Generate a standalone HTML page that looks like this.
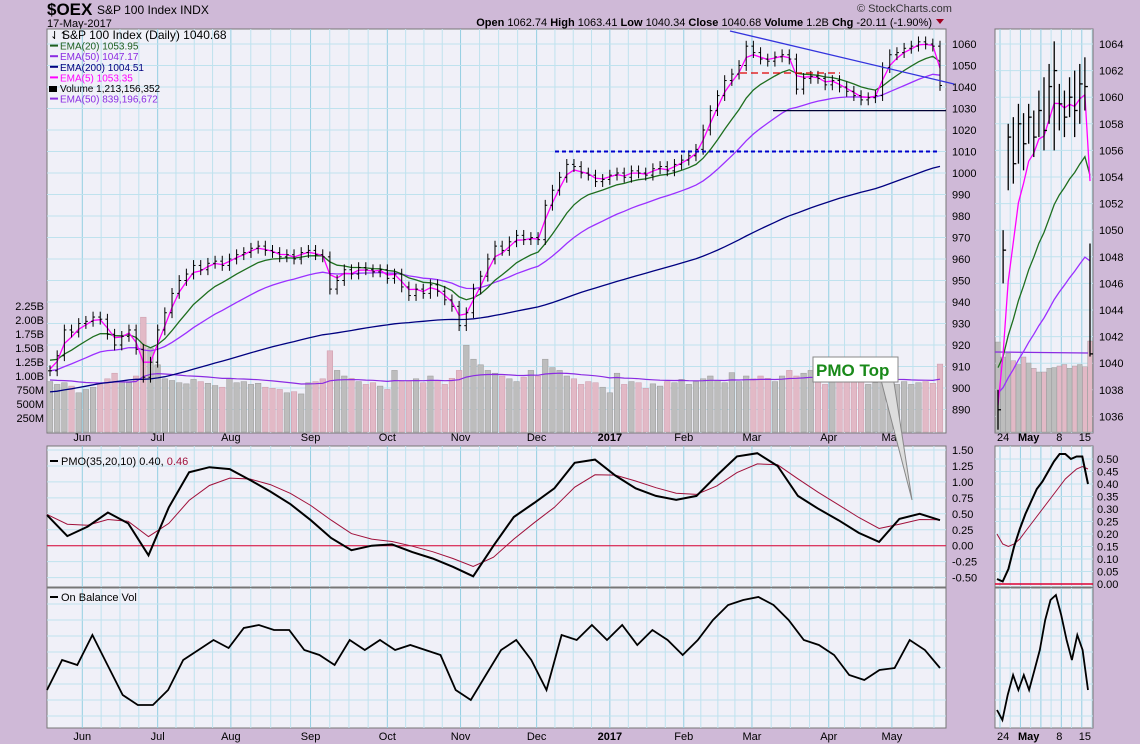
<!DOCTYPE html>
<html><head><meta charset="utf-8"><style>
body{margin:0;background:#cfb9d7;}
svg{display:block;font-family:"Liberation Sans",sans-serif;}
</style></head><body>
<svg id="c" width="1140" height="744" xmlns="http://www.w3.org/2000/svg">
<rect x="0" y="0" width="1140" height="744" fill="#cfb9d7"/>
<text x="47" y="15" font-size="17" font-weight="bold" font-family="Liberation Sans">$OEX</text>
<text x="97" y="14" font-size="12">S&amp;P 100 Index  INDX</text>
<text x="47" y="27" font-size="11">17-May-2017</text>
<text x="857" y="12" font-size="11" fill="#333">© StockCharts.com</text>
<text x="932" y="26" font-size="11" text-anchor="end"><tspan font-weight="bold">Open</tspan> 1062.74 <tspan font-weight="bold">High</tspan> 1063.41 <tspan font-weight="bold">Low</tspan> 1040.34 <tspan font-weight="bold">Close</tspan> 1040.68 <tspan font-weight="bold">Volume</tspan> 1.2B <tspan font-weight="bold">Chg</tspan> -20.11 (-1.90%)</text>
<polygon points="936,19 944,19 940,24" fill="#a00020"/>
<g id="g"></g>
</svg>
<script>
// ---------- data ----------
const closes=[908,915,927,926,930,931,933,932,925,920,
924,927,918,905,912,927,935,944,950,953,
957,955,958,959,957,960,962,963,965,966,
964,963,961,962,960,963,964,962,961,946,
950,955,953,956,955,954,955,951,953,947,
943,946,944,948,945,941,938,929,935,946,
952,960,966,964,968,971,969,970,969,985,
992,998,1004,1003,1000,999,996,997,999,1000,
998,1001,1000,999,1002,1003,1001,1004,1006,1008,
1011,1020,1029,1036,1043,1046,1050,1059,1056,1053,
1052,1054,1055,1053,1039,1044,1045,1044,1041,1043,
1040,1038,1036,1034,1035,1036,1049,1055,1056,1058,
1059,1061,1060,1059,1040.7];
const volumes=[900,850,880,820,700,760,800,850,950,1050,
900,880,1000,2050,1500,1200,950,920,880,860,
940,900,870,830,800,950,880,900,850,870,
800,780,760,700,720,680,880,900,950,1450,
1100,1000,960,900,850,880,820,760,1100,900,
900,950,880,1000,920,850,960,1100,1550,1300,
1200,1100,1050,1000,950,900,980,1100,1000,1300,
1150,1100,1000,950,850,900,880,800,700,1050,
850,900,880,780,860,820,900,880,940,850,
900,950,1000,920,880,1060,900,1000,950,1000,
960,900,1000,1100,1000,1050,1100,900,850,950,
1000,1050,900,950,850,880,1000,900,850,900,
850,880,900,870,1213];
const pmo=[.48,.15,.3,.52,.35,-.15,.6,1.15,1.23,1.2,1.03,.85,.65,.4,.12,-.07,0,.02,-.1,-.2,-.33,-.48,0,.45,.67,.9,1.3,1.35,1.1,.9,.78,.72,.78,1.1,1.4,1.45,1.25,.78,.58,.4,.2,.06,.42,.5,.40];
const obv=[3,6,5.5,8.5,5.5,2.5,1.5,1.5,3,6,7,8,7.2,9.2,9.5,9,9,7,6.5,5.5,8,7,8,7,7.5,7,6.5,3,2,4.5,7,8,6,3,8.5,8,9.5,8,9.5,7.5,9,8,6.5,8,10,11.5,12,12.3,11.5,10,8,7.5,6.5,4.5,4,5,5.2,8,7,5.2];
const priceTicks=[890,900,910,920,930,940,950,960,970,980,990,1000,1010,1020,1030,1040,1050,1060];
const volTicks=["250M","500M","750M","1.00B","1.25B","1.50B","1.75B","2.00B","2.25B"];
const pmoTicks=[-0.5,-0.25,0,0.25,0.5,0.75,1,1.25,1.5];
const months=["Jun","Jul","Aug","Sep","Oct","Nov","Dec","2017","Feb","Mar","Apr","May"];
const monthIdx=[4.5,15,25.2,36.3,47,57.2,67.8,78,88.3,97.8,108.5,117.3];
// side panel data
const sCloses=[1036.5,1048.5,1057,1055,1058,1056.5,1058.5,1057,1059,1057.5,1060.8,1062,1059.5,1058.5,1060,1059,1061,1060.8,1040.7];
const sHighs=[1038,1050,1058,1058.5,1059.5,1058.8,1059.5,1059,1060.5,1061.5,1062.5,1064.2,1061,1060.5,1061.5,1062,1062.5,1063,1049];
const sLows=[1035,1046,1053,1053.5,1055,1054.5,1056.5,1055.5,1057,1056,1058,1056,1057.5,1057,1058.5,1057,1058,1059,1040.5];
const sVolumes=[1200,1000,1050,950,900,1000,920,850,800,800,850,860,880,900,850,880,900,870,1213];
const sPmo=[0.02,0.01,0.06,0.15,0.22,0.28,0.33,0.38,0.41,0.45,0.49,0.52,0.52,0.50,0.51,0.51,0.40];
const sSignal=[0.20,0.16,0.15,0.16,0.18,0.21,0.24,0.27,0.30,0.33,0.36,0.39,0.42,0.44,0.46,0.47,0.46];
const sObv=[1,0,2.5,4.5,3,4.5,3,5,7,10,12,12.5,10.5,8,6,8.5,7,3];
const sTicks=[1036,1038,1040,1042,1044,1046,1048,1050,1052,1054,1056,1058,1060,1062,1064];
const sPmoTicks=[0,0.05,0.1,0.15,0.2,0.25,0.3,0.35,0.4,0.45,0.5];
const sDates=["24","May","8","15"];
const sDateIdx=[1,6,12,17];

// ---------- helpers ----------
const NS="http://www.w3.org/2000/svg";
const G=document.getElementById('g');
function el(t,a,p){const e=document.createElementNS(NS,t);for(const k in a)e.setAttribute(k,a[k]);(p||G).appendChild(e);return e;}
const L=47,R=946,SL=995,SR=1093;
const MT=29,MB=433,PT=446,PB=587,OT=588,OB=728;
const xi=i=>50+i*(890/(closes.length-1));
const yP=p=>44+(1060-p)*2.15;
const yV=v=>432-v*0.056;
const yPmo=v=>545.7-v*63.8;
const yObv=v=>720-v*10;
const sx=i=>998+i*(92/(sCloses.length-1));
const sy=p=>44+(1064-p)*13.3;
const syPmo=v=>584-v*250;
function ema(arr,a,seed){let e=seed;return arr.map(v=>(e=e+a*(v-e)));}
function pathOf(xs,ys){return xs.map((x,i)=>(i?'L':'M')+x.toFixed(1)+','+ys[i].toFixed(1)).join('');}

// panels
function panel(x,y,w,h,name){const r=el('rect',{x:x,y:y,width:w,height:h,fill:'#f0f0f8',stroke:'#777','stroke-width':1});}
panel(L,MT,R-L,MB-MT,'price-panel');panel(L,PT,R-L,PB-PT,'pmo-panel');panel(L,OT,R-L,OB-OT,'obv-panel');
panel(SL,MT,SR-SL,MB-MT,'side-price-panel');panel(SL,PT,SR-SL,PB-PT,'side-pmo-panel');panel(SL,OT,SR-SL,OB-OT,'side-obv-panel');

// vertical grid main
for(let m=0;m<monthIdx.length;m++){
  const x=xi(monthIdx[m]);
  const nx=m<monthIdx.length-1?xi(monthIdx[m+1]):R+30;
  for(let k=1;k<4;k++){const mx=x+(nx-x)*k/4;if(mx<R){[[MT,MB],[PT,PB],[OT,OB]].forEach(s=>el('line',{x1:mx,x2:mx,y1:s[0],y2:s[1],stroke:'#bfe2ee','stroke-width':1}));}}
  [[MT,MB],[PT,PB],[OT,OB]].forEach(s=>el('line',{x1:x,x2:x,y1:s[0],y2:s[1],stroke:'#94cfe2','stroke-width':1}));
  const t=el('text',{x:x,y:441,'font-size':11,'text-anchor':'middle','font-weight':months[m]==='2017'?'bold':'normal'});t.textContent=months[m];
  
  const t2=el('text',{x:x,y:740,'font-size':11,'text-anchor':'middle','font-weight':months[m]==='2017'?'bold':'normal'});t2.textContent=months[m];
  
}
// side vertical grid
for(let i=0;i<sCloses.length;i+=2){const x=sx(i)+2;[[MT,MB],[PT,PB],[OT,OB]].forEach(s=>el('line',{x1:x,x2:x,y1:s[0],y2:s[1],stroke:i%4==0?'#94cfe2':'#bfe2ee','stroke-width':1}));}
sDates.forEach((d,k)=>{[441,740].forEach(yy=>{const t=el('text',{x:sx(sDateIdx[k]),y:yy,'font-size':11,'text-anchor':'middle','font-weight':d==='May'?'bold':'normal'});t.textContent=d;
});});

// horizontal grid & ticks
priceTicks.forEach(p=>{const y=yP(p);el('line',{x1:L,x2:R,y1:y,y2:y,stroke:'#bfe2ee'});
 const t=el('text',{x:952,y:y+4,'font-size':11});t.textContent=p;});
volTicks.forEach((s,k)=>{const y=yV(250*(k+1));const t=el('text',{x:44,y:y+4,'font-size':11,'text-anchor':'end'});t.textContent=s;
 });
pmoTicks.forEach(v=>{const y=yPmo(v);el('line',{x1:L,x2:R,y1:y,y2:y,stroke:'#bfe2ee'});
 const t=el('text',{x:952,y:y+4,'font-size':11});t.textContent=v.toFixed(2);});
for(let y=OT+16;y<OB;y+=16){el('line',{x1:L,x2:R,y1:y,y2:y,stroke:'#bfe2ee'});el('line',{x1:SL,x2:SR,y1:y,y2:y,stroke:'#bfe2ee'});}
sTicks.forEach(p=>{const y=sy(p);el('line',{x1:SL,x2:SR,y1:y,y2:y,stroke:'#bfe2ee'});
 if(p%2==0&&p>=1036){const t=el('text',{x:1099,y:y+4,'font-size':11});t.textContent=p;}});
sPmoTicks.forEach(v=>{const y=syPmo(v);el('line',{x1:SL,x2:SR,y1:y,y2:y,stroke:'#bfe2ee'});
 const t=el('text',{x:1097,y:y+4,'font-size':11});t.textContent=v.toFixed(2);});

// volume bars
const bw=5.6;
volumes.forEach((v,i)=>{const up=i==0||closes[i]>=closes[i-1];const y=yV(v);
 const r=el('rect',{x:xi(i)-bw/2,y:y,width:bw,height:432-y,fill:up?'#bdbdbd':'#e2b9c6',stroke:up?'#999':'#cc99aa','stroke-width':0.5});
 });
const vEma=ema(volumes,0.077,930);
const vl=el('path',{d:pathOf(closes.map((c,i)=>xi(i)),vEma.map(yV)),fill:'none',stroke:'#8a2be2','stroke-width':1.2});

sVolumes.forEach((v,i)=>{const up=i==0||sCloses[i]>=sCloses[i-1];const y=432-v*0.075;
 const r=el('rect',{x:sx(i)-2.4,y:y,width:4.8,height:432-y,fill:up?'#bdbdbd':'#e2b9c6',stroke:'#999','stroke-width':0.4});
 });
const svl=el('line',{x1:SL,x2:1088,y1:352,y2:353,stroke:'#8a2be2','stroke-width':1.2});


// EMAs main
const xs=closes.map((c,i)=>xi(i));
[[ema(closes,0.0198,898),'#000080','ema200'],[ema(closes,0.077,908),'#9b30ff','ema50'],[ema(closes,0.18,914),'#1e6e1e','ema20'],[ema(closes,0.57,910),'#ff00ff','ema5']].forEach(s=>{
 const p=el('path',{d:pathOf(xs,s[0].map(yP)),fill:'none',stroke:s[1],'stroke-width':1.3});});
// price bars
closes.forEach((c,i)=>{const o=i?closes[i-1]:c;const hi=Math.max(o,c)+2.5,lo=Math.min(o,c)-2.5;const x=xi(i);
 const g=el('g',{stroke:'#000','stroke-width':1});
 el('line',{x1:x,x2:x,y1:yP(hi),y2:yP(lo)},g);el('line',{x1:x-2,x2:x,y1:yP(o),y2:yP(o)},g);el('line',{x1:x,x2:x+2,y1:yP(c),y2:yP(c)},g);});

// annotations
el('line',{x1:555,x2:940,y1:yP(1010),y2:yP(1010),stroke:'#0000cc','stroke-width':2,'stroke-dasharray':'4,3'});
el('line',{x1:740,x2:840,y1:yP(1046.5),y2:yP(1046.5),stroke:'#e00000','stroke-width':1.3,'stroke-dasharray':'7,4'});
el('line',{x1:773,x2:946,y1:yP(1029),y2:yP(1029),stroke:'#000033','stroke-width':1.3});
el('line',{x1:730,x2:954,y1:31,y2:84,stroke:'#3333dd','stroke-width':1.3});
el('polygon',{points:'880,376 893,376 912,500',fill:'#dddddd',stroke:'#888','stroke-width':1});
el('rect',{x:813,y:357,width:85,height:25,fill:'#fff',stroke:'#888'});
const ct=el('text',{x:816,y:376,'font-size':17,'font-weight':'bold',fill:'#1a8a1a'});ct.textContent='PMO Top';

// side EMAs & bars
const sxs=sCloses.map((c,i)=>sx(i));
[[ema(sCloses,0.039,1037.8),'#9b30ff','side-ema50'],[ema(sCloses,0.095,1040),'#1e6e1e','side-ema20'],[ema(sCloses,0.333,1037),'#ff00ff','side-ema5']].forEach(s=>{
 const p=el('path',{d:pathOf(sxs,s[0].map(sy)),fill:'none',stroke:s[1],'stroke-width':1.3});});
sCloses.forEach((c,i)=>{const x=sx(i);const g=el('g',{stroke:'#000','stroke-width':1.3});
 el('line',{x1:x,x2:x,y1:sy(sHighs[i]),y2:sy(sLows[i])},g);el('line',{x1:x,x2:x+3,y1:sy(c),y2:sy(c)},g);});

// PMO
el('line',{x1:L,x2:R,y1:yPmo(0),y2:yPmo(0),stroke:'#dd0033','stroke-width':1});
const pxs=pmo.map((v,i)=>L+i*(893/(pmo.length-1)));
const sig=ema(pmo,0.45,0.5);
el('path',{d:pathOf(pxs,sig.map(yPmo)),fill:'none',stroke:'#a0103a','stroke-width':1});
el('path',{d:pathOf(pxs,pmo.map(yPmo)),fill:'none',stroke:'#000','stroke-width':2});
el('line',{x1:SL,x2:SR,y1:syPmo(0),y2:syPmo(0),stroke:'#dd0033','stroke-width':1.5});
const spx=sPmo.map((v,i)=>997+i*(91/(sPmo.length-1)));
el('path',{d:pathOf(spx,sSignal.map(syPmo)),fill:'none',stroke:'#a0103a','stroke-width':1});
el('path',{d:pathOf(spx,sPmo.map(syPmo)),fill:'none',stroke:'#000','stroke-width':2});

// OBV
const oxs=obv.map((v,i)=>L+i*(893/(obv.length-1)));
el('path',{d:pathOf(oxs,obv.map(yObv)),fill:'none',stroke:'#000','stroke-width':1.8});
const soxs=sObv.map((v,i)=>997+i*(91/(sObv.length-1)));
el('path',{d:pathOf(soxs,sObv.map(yObv)),fill:'none',stroke:'#000','stroke-width':1.8});

// legends
const leg=[["S&P 100 Index (Daily) 1040.68","#000"],["EMA(20) 1053.95","#1e5e1e"],["EMA(50) 1047.17","#8a2be2"],["EMA(200) 1004.51","#000080"],["EMA(5) 1053.35","#ff00ff"],["Volume 1,213,156,352","#000"],["EMA(50) 839,196,672","#8a2be2"]];
leg.forEach((l,k)=>{const y=k==0?39:39+k*10.6;
 if(k>0&&k!=5)el('line',{x1:50,x2:58,y1:y-4,y2:y-4,stroke:l[1],'stroke-width':2});
 const t=el('text',{x:k==0?62:60,y:y,'font-size':k==0?12:10,fill:l[1]});t.textContent=l[0];
 });
el('text',{x:50,y:39,'font-size':11}).textContent='⇃↿';
el('rect',{x:49,y:86,width:8,height:6,fill:'#000'});
el('line',{x1:50,x2:58,y1:461,y2:461,stroke:'#000','stroke-width':2});
const pl=el('text',{x:61,y:465,'font-size':11});pl.innerHTML='PMO(35,20,10) 0.40, <tspan fill="#a0103a">0.46</tspan>';
el('line',{x1:50,x2:58,y1:597,y2:597,stroke:'#000','stroke-width':2});
const ol=el('text',{x:61,y:601,'font-size':11});ol.textContent='On Balance Vol';
</script>
</body></html>
